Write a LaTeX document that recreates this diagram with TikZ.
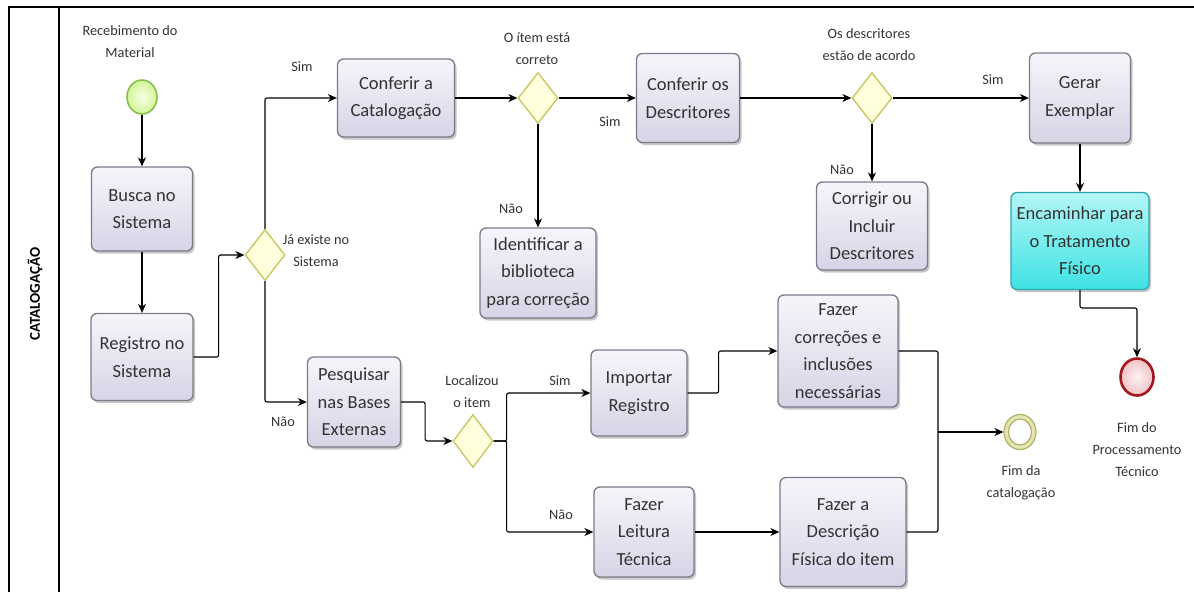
\documentclass[tikz,border=0pt]{standalone}
\usepackage{fontspec}
\setmainfont{Carlito}
\usetikzlibrary{arrows.meta,shadows,shapes.geometric}
\definecolor{boxtop}{HTML}{F7F5FB}
\definecolor{boxbot}{HTML}{D8D3E6}
\definecolor{boxdraw}{HTML}{7C7A86}
\definecolor{cyantop}{HTML}{B4F6F6}
\definecolor{cyanbot}{HTML}{3EE2E4}
\definecolor{cyandraw}{HTML}{2BA6AE}
\definecolor{gwfill}{HTML}{FFFFDC}
\definecolor{gwdraw}{HTML}{C4C460}
\definecolor{startdraw}{HTML}{86C04A}
\definecolor{startin}{HTML}{F8FFE6}
\definecolor{startout}{HTML}{D2F596}
\definecolor{enddraw}{HTML}{A3181E}
\definecolor{endin}{HTML}{FDF2F2}
\definecolor{endout}{HTML}{F2C2C6}
\definecolor{ringdraw}{HTML}{B2B266}
\definecolor{ringfill}{HTML}{E4E4B4}
\definecolor{txt}{HTML}{333333}
\begin{document}
\begin{tikzpicture}[x=1pt,y=-1pt,
  task/.style={draw=boxdraw, line width=1.3pt, rounded corners=6pt,
    top color=boxtop, bottom color=boxbot, align=center, text=txt,
    font=\fontsize{18.5}{27.5}\selectfont, inner sep=0pt,
    drop shadow={shadow xshift=2pt,shadow yshift=-2.5pt,opacity=0.22,fill=black}},
  cyantask/.style={task, draw=cyandraw, top color=cyantop, bottom color=cyanbot},
  gw/.style={diamond, draw=gwdraw, fill=gwfill, line width=1.3pt,
    minimum width=40pt, minimum height=51pt, inner sep=0pt},
  lbl/.style={align=center, font=\fontsize{14.3}{22}\selectfont, inner sep=0pt, text=txt},
  flow/.style={draw, line width=1.1pt, rounded corners=2pt,
    -{Stealth[length=9pt,width=8pt]}},
  line/.style={draw, line width=1.1pt, rounded corners=2pt},
  frame/.style={draw, line width=1.3pt}
]
\useasboundingbox (0,0) rectangle (1194,592);
% frame
\draw[frame] (9,592) -- (9,7) -- (1194,7);
\draw[frame] (59,7) -- (59,592);
\node[rotate=90, font=\bfseries\fontsize{15}{17}\selectfont] (lane) at (35,294) {CATALOGAÇÃO};

% events
\node[ellipse, draw=startdraw, line width=1.6pt, inner color=startin, outer color=startout,
  minimum width=30pt, minimum height=34pt, inner sep=0pt] (start) at (142,97) {};
\node[lbl] (startl) at (130,42) {Recebimento do\\Material};

\node[ellipse, draw=enddraw, line width=2.6pt, inner color=endin, outer color=endout,
  minimum width=33pt, minimum height=37pt, inner sep=0pt] (endr) at (1137,377) {};
\node[lbl] (endrl) at (1137,450) {Fim do\\Processamento\\Técnico};

\node[ellipse, draw=ringdraw, line width=1.2pt, fill=ringfill,
  minimum width=32pt, minimum height=35pt, inner sep=0pt] (endc) at (1020,432) {};
\node[ellipse, draw=ringdraw, line width=1.2pt, fill=white,
  minimum width=23pt, minimum height=26pt, inner sep=0pt] (endcin) at (1020,432) {};
\node[lbl] (endcl) at (1021,483) {Fim da\\catalogação};

% tasks
\node[task, minimum width=101pt, minimum height=84pt] (busca) at (142,209) {Busca no\\Sistema};
\node[task, minimum width=102pt, minimum height=87pt] (reg) at (142,357) {Registro no\\Sistema};
\node[task, minimum width=117pt, minimum height=78pt] (conf1) at (396,98) {Conferir a\\Catalogação};
\node[task, minimum width=103pt, minimum height=89pt] (conf2) at (688,98) {Conferir os\\Descritores};
\node[task, minimum width=101pt, minimum height=90pt] (gerar) at (1080,98) {Gerar\\Exemplar};
\node[cyantask, minimum width=138pt, minimum height=97pt] (enc) at (1080,241) {Encaminhar para\\o Tratamento\\Físico};
\node[task, minimum width=111pt, minimum height=88pt] (corr) at (872,226) {Corrigir ou\\Incluir\\Descritores};
\node[task, minimum width=116pt, minimum height=90pt] (ident) at (538,273) {Identificar a\\biblioteca\\para correção};
\node[task, minimum width=93pt, minimum height=90pt] (pesq) at (354,402) {Pesquisar\\nas Bases\\Externas};
\node[task, minimum width=96pt, minimum height=86pt] (imp) at (639,393) {Importar\\Registro};
\node[task, minimum width=120pt, minimum height=112pt] (fcor) at (838,351) {Fazer\\correções e\\inclusões\\necessárias};
\node[task, minimum width=100pt, minimum height=90pt] (leit) at (644,532) {Fazer\\Leitura\\Técnica};
\node[task, minimum width=126pt, minimum height=109pt] (desc) at (843,532) {Fazer a\\Descrição\\Física do item};

% gateways
\node[gw] (gw1) at (265,255) {};
\node[lbl] (gw1l) at (316,251) {Já existe no\\Sistema};
\node[gw] (gw2) at (538,98) {};
\node[lbl] (gw2l) at (537,49) {O ítem está\\correto};
\node[gw] (gw3) at (872,98) {};
\node[lbl] (gw3l) at (869,45) {Os descritores\\estão de acordo};
\node[gw, minimum height=53pt] (gw4) at (473,441) {};
\node[lbl] (gw4l) at (472,392) {Localizou\\o item};

% connector labels
\node[lbl] (s1) at (302,67) {Sim};
\node[lbl] (n1) at (283,422) {Não};
\node[lbl] (s2) at (610,122) {Sim};
\node[lbl] (n2) at (511,209) {Não};
\node[lbl] (s3) at (993,80) {Sim};
\node[lbl] (n3) at (842,170) {Não};
\node[lbl] (s4) at (560,381) {Sim};
\node[lbl] (n4) at (561,515) {Não};

% connectors
\draw[flow] (start) -- (busca);
\draw[flow] (busca) -- (reg);
\draw[flow] (reg.east) -- ++(25,0) |- (gw1.west);
\draw[flow] (gw1.north) |- (conf1.west);
\draw[flow] (gw1.south) |- (pesq.west);
\draw[flow] (conf1) -- (gw2);
\draw[flow] (gw2) -- (conf2);
\draw[flow] (gw2) -- (ident);
\draw[flow] (conf2) -- (gw3);
\draw[flow] (gw3) -- (gerar);
\draw[flow] (gw3) -- (corr);
\draw[flow] (gerar) -- (enc);
\coordinate (k1) at (1080,308);
\draw[flow] (enc.south) -- (k1) -| (endr.north);
\draw[flow] (pesq.east) -- ++(24,0) |- (gw4.west);
\draw[flow] (gw4.east) -- ++(13,0) |- (imp.west);
\draw[flow] (gw4.east) -- ++(13,0) |- (leit.west);
\draw[flow] (imp.east) -- ++(31,0) |- (fcor.west);
\draw[flow] (leit) -- (desc);
\coordinate (m) at (938,432);
\draw[line] (fcor.east) -| (m);
\draw[line] (desc.east) -| (m);
\draw[flow] (m) -- (endc.west);
\end{tikzpicture}
\end{document}
